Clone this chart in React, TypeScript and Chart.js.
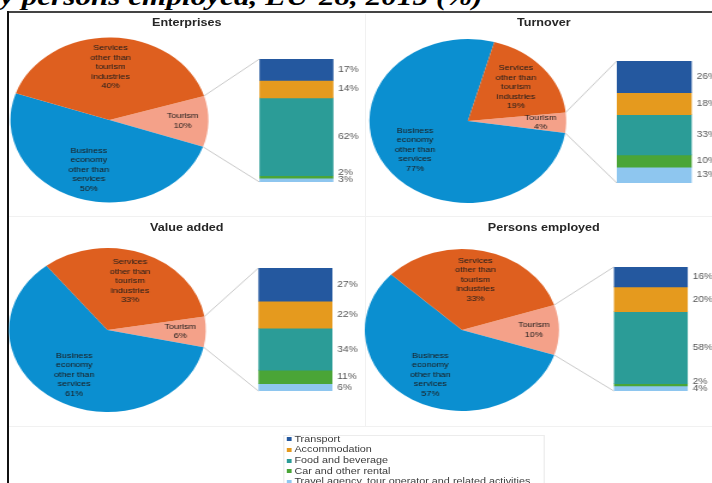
import React, { useEffect, useRef } from "react";
import { Chart, registerables } from "chart.js";

Chart.register(...registerables);

// ---------- data ----------
const panelTitles = ["Enterprises", "Turnover", "Value added", "Persons employed"];

const pieCategories = [
  "Tourism",
  "Business economy other than services",
  "Services other than tourism industries",
];
const pieLabelLines = [
  ["Tourism"],
  ["Business", "economy", "other than", "services"],
  ["Services", "other than", "tourism", "industries"],
];
const enterprisesPie = [10, 50, 40];
const turnoverPie = [4, 77, 19];
const valueAddedPie = [6, 61, 33];
const personsPie = [10, 57, 33];

const tourismCategories = [
  "Transport",
  "Accommodation",
  "Food and beverage",
  "Car and other rental",
  "Travel agency, tour operator and related activities",
];
const enterprisesBar = [17, 14, 62, 2, 3];
const turnoverBar = [26, 18, 33, 10, 13];
const valueAddedBar = [27, 22, 34, 11, 6];
const personsBar = [16, 20, 58, 2, 4];

const pieData = [enterprisesPie, turnoverPie, valueAddedPie, personsPie];
const barData = [enterprisesBar, turnoverBar, valueAddedBar, personsBar];

// ---------- styles / layout ----------
const pieColors = ["#f4a189", "#0b8fd0", "#de5f1f"];
const barColors = ["#24589f", "#e59a1e", "#2b9c97", "#4aa537", "#8ec6ef"];
const SX = 1.2; // horizontal stretch of the whole picture
const FONT = '"Liberation Sans", Arial, sans-serif';

const panelBoxes = [
  { x: 8, y: 12, w: 357, h: 204 },
  { x: 365, y: 12, w: 357, h: 204 },
  { x: 8, y: 216, w: 357, h: 210 },
  { x: 365, y: 216, w: 357, h: 210 },
];
const pieGeom = [
  { cx: 109, cy: 120, r: 82.5 },
  { cx: 468, cy: 121, r: 82 },
  { cx: 107, cy: 330, r: 82 },
  { cx: 462, cy: 330, r: 81 },
];
const barGeom = [
  { x0: 259, x1: 333, y0: 59, y1: 182 },
  { x0: 617, x1: 692, y0: 61, y1: 183 },
  { x0: 258, x1: 332, y0: 268, y1: 391 },
  { x0: 614, x1: 688, y0: 267, y1: 391 },
];
const pieRotations = [73, 84, 80.5, 72];
const titleY = [23, 23, 228, 228];

const pieLabelPlugin = {
  id: "pieLabels",
  afterDatasetsDraw(chart: any) {
    const ctx = chart.ctx;
    const meta = chart.getDatasetMeta(0);
    const vals = chart.data.datasets[0].data as number[];
    ctx.save();
    ctx.font = `7.5px ${FONT}`;
    ctx.fillStyle = "#1c1c1c";
    ctx.textAlign = "center";
    ctx.textBaseline = "middle";
    meta.data.forEach((el: any, i: number) => {
      const { x, y, startAngle, endAngle, outerRadius } = el.getProps(
        ["x", "y", "startAngle", "endAngle", "outerRadius"],
        true
      );
      const mid = (startAngle + endAngle) / 2;
      const v = vals[i];
      const f = v < 12 ? 0.74 : 0.64;
      const px = x + Math.cos(mid) * outerRadius * f;
      const py = y + Math.sin(mid) * outerRadius * f;
      const lines = [...pieLabelLines[i], `${v}%`];
      const lh = 9.5;
      lines.forEach((t, k) => {
        ctx.fillText(t, px, py + (k - (lines.length - 1) / 2) * lh);
      });
    });
    ctx.restore();
  },
};

function Panel({ idx }: { idx: number }) {
  const pieRef = useRef<HTMLCanvasElement>(null);
  const barRef = useRef<HTMLCanvasElement>(null);
  const box = panelBoxes[idx];
  const W = Math.round(box.w / SX);
  const H = box.h;

  useEffect(() => {
    const pg = pieGeom[idx];
    const bg = barGeom[idx];
    const ox = box.x / SX;
    const oy = box.y;
    const lcx = pg.cx / SX - ox;
    const lcy = pg.cy - oy;

    const pie = new Chart(pieRef.current as HTMLCanvasElement, {
      type: "pie",
      data: {
        labels: pieCategories,
        datasets: [
          { data: pieData[idx], backgroundColor: pieColors, borderWidth: 0 },
        ],
      },
      options: {
        responsive: false,
        animation: false,
        events: [],
        rotation: pieRotations[idx],
        layout: {
          padding: {
            left: lcx - pg.r,
            right: W - lcx - pg.r,
            top: lcy - pg.r,
            bottom: H - lcy - pg.r,
          },
        },
        plugins: {
          legend: { display: false },
          tooltip: { enabled: false },
          title: { display: false },
        },
      } as any,
      plugins: [pieLabelPlugin],
    });

    const values = barData[idx];
    const total = values.reduce((a, b) => a + b, 0);

    const connectorPlugin = {
      id: "connector",
      beforeDatasetsDraw(chart: any) {
        const el: any = pie.getDatasetMeta(0).data[0];
        if (!el) return;
        const { x, y, startAngle, endAngle, outerRadius } = el.getProps(
          ["x", "y", "startAngle", "endAngle", "outerRadius"],
          true
        );
        const ca = chart.chartArea;
        const ctx = chart.ctx;
        ctx.save();
        ctx.strokeStyle = "#c9c9c9";
        ctx.lineWidth = 1;
        ctx.beginPath();
        ctx.moveTo(x + Math.cos(startAngle) * outerRadius, y + Math.sin(startAngle) * outerRadius);
        ctx.lineTo(ca.left, ca.top);
        ctx.moveTo(x + Math.cos(endAngle) * outerRadius, y + Math.sin(endAngle) * outerRadius);
        ctx.lineTo(ca.left, ca.bottom);
        ctx.stroke();
        ctx.restore();
      },
      afterDatasetsDraw(chart: any) {
        const ctx = chart.ctx;
        const ca = chart.chartArea;
        const n = chart.data.datasets.length;
        const centers: number[] = [];
        for (let i = 0; i < n; i++) {
          const el: any = chart.getDatasetMeta(i).data[0];
          const p = el.getProps(["y", "base"], true);
          centers.push((p.y + p.base) / 2);
        }
        const pos = centers.slice();
        for (let i = n - 2; i >= 0; i--) {
          pos[i] = Math.min(pos[i], pos[i + 1] - 7);
        }
        ctx.save();
        ctx.font = `8.5px ${FONT}`;
        ctx.fillStyle = "#555555";
        ctx.textAlign = "left";
        ctx.textBaseline = "middle";
        for (let i = 0; i < n; i++) {
          const v = chart.data.datasets[i].data[0];
          ctx.fillText(`${v}%`, ca.right + 4, pos[i]);
        }
        ctx.restore();
      },
    };

    const bar = new Chart(barRef.current as HTMLCanvasElement, {
      type: "bar",
      data: {
        labels: [panelTitles[idx]],
        datasets: tourismCategories.map((c, i) => ({
          label: c,
          data: [values[i]],
          backgroundColor: barColors[i],
          borderWidth: 0,
          barPercentage: 1,
          categoryPercentage: 1,
        })),
      },
      options: {
        responsive: false,
        animation: false,
        events: [],
        layout: {
          padding: {
            left: bg.x0 / SX - ox,
            right: W - (bg.x1 / SX - ox),
            top: bg.y0 - oy,
            bottom: H - (bg.y1 - oy),
          },
        },
        scales: {
          x: { display: false, stacked: true, grid: { display: false } },
          y: {
            display: false,
            stacked: true,
            reverse: true,
            min: 0,
            max: total,
            grid: { display: false },
          },
        },
        plugins: {
          legend: { display: false },
          tooltip: { enabled: false },
          title: { display: false },
        },
      } as any,
      plugins: [connectorPlugin],
    });

    return () => {
      bar.destroy();
      pie.destroy();
    };
  }, []);

  return (
    <div
      style={{
        position: "absolute",
        left: box.x / SX,
        top: box.y,
        width: W,
        height: H,
      }}
    >
      <div
        style={{
          position: "absolute",
          left: 0,
          width: W,
          top: titleY[idx] - box.y - 7,
          height: 14,
          lineHeight: "14px",
          textAlign: "center",
          font: `bold 10.5px ${FONT}`,
          color: "#262626",
          whiteSpace: "nowrap",
        }}
      >
        {panelTitles[idx]}
      </div>
      <canvas
        ref={pieRef}
        width={W}
        height={H}
        style={{ position: "absolute", left: 0, top: 0 }}
      />
      <canvas
        ref={barRef}
        width={W}
        height={H}
        style={{ position: "absolute", left: 0, top: 0 }}
      />
    </div>
  );
}

function Legend() {
  const left = 283 / SX;
  const top = 435;
  return (
    <div
      style={{
        position: "absolute",
        left,
        top,
        width: (545 - 283) / SX,
        height: 60,
        border: "1px solid #ececec",
        boxSizing: "border-box",
      }}
    >
      {tourismCategories.map((c, i) => (
        <div
          key={c}
          style={{
            position: "absolute",
            left: 0,
            top: 5 + i * 10.6 - 5.3 - 2,
            height: 10.6,
            lineHeight: "10.6px",
            whiteSpace: "nowrap",
            font: `9px ${FONT}`,
            color: "#3c3c3c",
          }}
        >
          <span
            style={{
              display: "inline-block",
              width: 3.5,
              height: 4,
              background: barColors[i],
              marginLeft: 2.5,
              marginRight: 2.5,
              verticalAlign: "middle",
            }}
          />
          {c}
        </div>
      ))}
    </div>
  );
}

export default function App() {
  useEffect(() => {
    document.body.style.margin = "0";
    document.body.style.background = "#ffffff";
  }, []);
  return (
    <div
      style={{
        position: "fixed",
        left: 0,
        top: 0,
        width: 712,
        height: 483,
        overflow: "hidden",
        background: "#ffffff",
      }}
    >
      {/* cut-off caption at the very top */}
      <div
        style={{
          position: "absolute",
          left: 0,
          top: -18,
          lineHeight: "26px",
          font: `italic bold 26px "Liberation Serif", "Times New Roman", serif`,
          color: "#000",
          whiteSpace: "nowrap",
          transform: "scaleX(1.2)",
          transformOrigin: "0 0",
        }}
      >
        y persons employed, EU-28, 2015 (%)
      </div>
      {/* frame */}
      <div style={{ position: "absolute", left: 7, top: 11, width: 705, height: 2, background: "#444" }} />
      <div style={{ position: "absolute", left: 7, top: 11, width: 2, height: 472, background: "#111" }} />
      {/* faint panel separators */}
      <div style={{ position: "absolute", left: 365, top: 14, width: 1, height: 412, background: "#f1f1f1" }} />
      <div style={{ position: "absolute", left: 9, top: 216, width: 703, height: 1, background: "#f1f1f1" }} />
      <div style={{ position: "absolute", left: 9, top: 426, width: 703, height: 1, background: "#f1f1f1" }} />
      {/* stretched chart area */}
      <div
        style={{
          position: "absolute",
          left: 0,
          top: 0,
          width: 712 / SX,
          height: 483,
          transform: `scaleX(${SX})`,
          transformOrigin: "0 0",
        }}
      >
        {[0, 1, 2, 3].map((i) => (
          <Panel key={i} idx={i} />
        ))}
        <Legend />
      </div>
    </div>
  );
}
